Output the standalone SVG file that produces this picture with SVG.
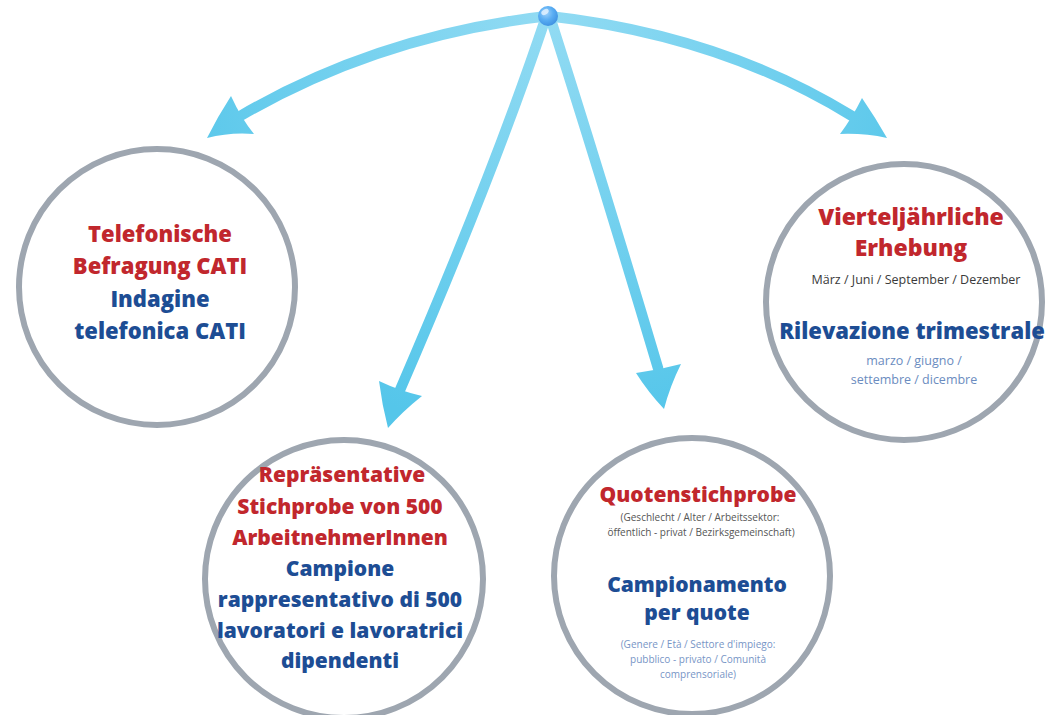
<svg xmlns="http://www.w3.org/2000/svg" width="1046" height="715" viewBox="0 0 1046 715">
<defs>
<radialGradient id="flow" gradientUnits="userSpaceOnUse" cx="548" cy="16" r="420">
<stop offset="0" stop-color="#92dbf3"/>
<stop offset="1" stop-color="#55c6ea"/>
</radialGradient>
<radialGradient id="hubg" cx="0.4" cy="0.35" r="0.7">
<stop offset="0" stop-color="#9fd2fb"/>
<stop offset="0.5" stop-color="#5aaef3"/>
<stop offset="1" stop-color="#3d8fe0"/>
</radialGradient>
<style>
.line{fill:none;stroke:url(#flow);stroke-width:10.5;stroke-linecap:round}
.head{fill:url(#flow);stroke:none}
.ring{fill:#fff;stroke:#9ea6b0;stroke-width:6}
text{font-family:"Open Sans","Liberation Sans",sans-serif;text-anchor:middle}
.t{font-weight:800;font-size:21px}
.r{fill:#c1272d}
.b{fill:#1d4d94}
.sg{font-size:12.5px;fill:#3a3a3a}
.sb{font-size:12.5px;fill:#6b8cc0}
.xg{font-size:10px;fill:#555}
.xb{font-size:10px;fill:#7795c6}
</style>
</defs>
<g id="connectors">
<path class="line" d="M548,16 Q380,35 242,115"/>
<path class="head" d="M207,138 Q218,116 231,96 Q241,118 254,134 Q230,132 207,138 Z"/>
<path class="line" d="M548,16 Q720,35 852,116"/>
<path class="head" d="M887,138 Q875,117 862,98 Q852,118 840,134 Q864,133 887,138 Z"/>
<path class="line" d="M545,20 Q493,175 400,390"/>
<path class="head" d="M388,428 Q382,405 379,381 Q400,391 422,396 Q403,411 388,428 Z"/>
<path class="line" d="M551,20 Q602,180 658,368"/>
<path class="head" d="M664,409 Q648,392 636,373 Q659,370 681,364 Q670,386 664,409 Z"/>
</g>
<g id="hub">
<circle cx="548" cy="16" r="10" fill="url(#hubg)"/>
<ellipse cx="545" cy="12" rx="4" ry="2.5" fill="#e6f4ff" opacity="0.8" transform="rotate(-30 545 12)"/>
</g>
<g id="node-cati">
<circle class="ring" cx="157" cy="287" r="138"/>
<text class="t r" x="160" y="242" style="font-size:22px">Telefonische</text>
<text class="t r" x="160" y="274" style="font-size:22px">Befragung CATI</text>
<text class="t b" x="160" y="307" style="font-size:22px">Indagine</text>
<text class="t b" x="160" y="339" style="font-size:22px">telefonica CATI</text>
</g>
<g id="node-quarterly">
<circle class="ring" cx="904" cy="302" r="138"/>
<text class="t r" x="911" y="225" style="font-size:23px">Vierteljährliche</text>
<text class="t r" x="911" y="256" style="font-size:23px">Erhebung</text>
<text class="sg" x="916" y="284">März / Juni / September / Dezember</text>
<text class="t b" x="912" y="339" style="font-size:22px">Rilevazione trimestrale</text>
<text class="sb" x="914" y="365">marzo / giugno /</text>
<text class="sb" x="914" y="384">settembre / dicembre</text>
</g>
<g id="node-sample">
<circle class="ring" cx="344" cy="579" r="139"/>
<text class="t r" x="342" y="482">Repräsentative</text>
<text class="t r" x="340" y="514">Stichprobe von 500</text>
<text class="t r" x="340" y="545">ArbeitnehmerInnen</text>
<text class="t b" x="340" y="576">Campione</text>
<text class="t b" x="340" y="607">rappresentativo di 500</text>
<text class="t b" x="340" y="638">lavoratori e lavoratrici</text>
<text class="t b" x="340" y="668">dipendenti</text>
</g>
<g id="node-quota">
<circle class="ring" cx="692" cy="576" r="138"/>
<text class="t r" x="698" y="502">Quotenstichprobe</text>
<text class="xg" x="700" y="521">(Geschlecht / Alter / Arbeitssektor:</text>
<text class="xg" x="701" y="536">öffentlich - privat / Bezirksgemeinschaft)</text>
<text class="t b" x="697" y="592">Campionamento</text>
<text class="t b" x="697" y="620">per quote</text>
<text class="xb" x="698" y="648">(Genere / Età / Settore d'impiego:</text>
<text class="xb" x="698" y="663">pubblico - privato / Comunità</text>
<text class="xb" x="698" y="678">comprensoriale)</text>
</g>
</svg>
